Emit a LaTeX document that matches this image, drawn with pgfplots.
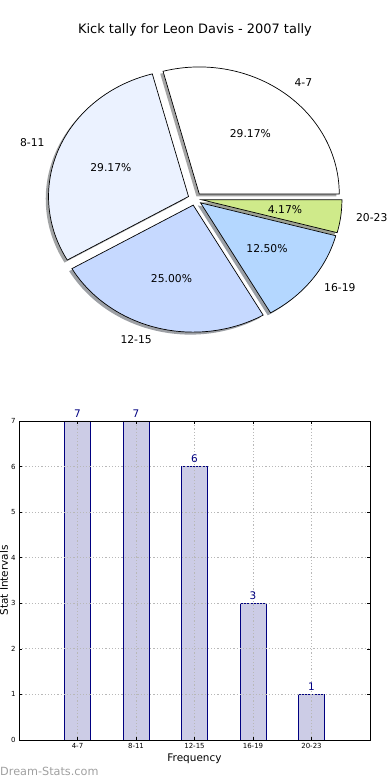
\documentclass[border=0pt]{standalone}
\usepackage{pgfplots}
\pgfplotsset{compat=1.18}
\usepackage{fontspec}
\setmainfont{DejaVu Sans}
\definecolor{c1}{RGB}{255,255,255}
\definecolor{c2}{RGB}{235,242,255}
\definecolor{c3}{RGB}{198,217,255}
\definecolor{c4}{RGB}{180,215,255}
\definecolor{c5}{RGB}{207,234,138}
\definecolor{barfill}{RGB}{204,204,230}
\definecolor{navy}{RGB}{0,0,128}
\definecolor{wm}{RGB}{160,160,160}
\pgfplotstableread{
x y
0 7
1 7
2 6
3 3
4 1
}\tally
\begin{document}
\begin{tikzpicture}[x=1bp,y=1bp]
\useasboundingbox (0,0) rectangle (390,780);
% ---------------- pie (7,7,6,3,1 of 24 -> 105,105,90,45,15 degrees) ----------------
\begin{axis}[at={(0bp,0bp)},anchor=south west,scale only axis,width=390bp,height=780bp,
  xmin=0,xmax=390,ymin=0,ymax=780,hide axis,clip=false]
% shadows
\addplot[draw=none,fill=c1!30!black,fill opacity=0.5,domain=0:105,samples=60] ({196.46+140*cos(x)},{583.54+127*sin(x)}) -- (196.46,583.54) -- cycle;
\addplot[draw=none,fill=c2!30!black,fill opacity=0.5,domain=105:210,samples=60] ({185.73+140*cos(x)},{580.93+127*sin(x)}) -- (185.73,580.93) -- cycle;
\addplot[draw=none,fill=c3!30!black,fill opacity=0.5,domain=210:300,samples=60] ({190.39+140*cos(x)},{572.37+127*sin(x)}) -- (190.39,572.37) -- cycle;
\addplot[draw=none,fill=c4!30!black,fill opacity=0.5,domain=300:345,samples=40] ({197.75+140*cos(x)},{574.63+127*sin(x)}) -- (197.75,574.63) -- cycle;
\addplot[draw=none,fill=c5!30!black,fill opacity=0.5,domain=345:360,samples=20] ({199.14+140*cos(x)},{577.67+127*sin(x)}) -- (199.14,577.67) -- cycle;
% wedges
\addplot[draw=black,line width=0.7bp,fill=c1,domain=0:105,samples=60] ({199.26+140*cos(x)},{586.04+127*sin(x)}) -- (199.26,586.04) -- cycle;
\addplot[draw=black,line width=0.7bp,fill=c2,domain=105:210,samples=60] ({188.53+140*cos(x)},{583.43+127*sin(x)}) -- (188.53,583.43) -- cycle;
\addplot[draw=black,line width=0.7bp,fill=c3,domain=210:300,samples=60] ({193.19+140*cos(x)},{574.87+127*sin(x)}) -- (193.19,574.87) -- cycle;
\addplot[draw=black,line width=0.7bp,fill=c4,domain=300:345,samples=40] ({200.55+140*cos(x)},{577.13+127*sin(x)}) -- (200.55,577.13) -- cycle;
\addplot[draw=black,line width=0.7bp,fill=c5,domain=345:360,samples=20] ({201.94+140*cos(x)},{580.17+127*sin(x)}) -- (201.94,580.17) -- cycle;
% percentages and labels
\begin{scope}[every node/.style={font=\fontsize{10.8}{13}\selectfont}]
\node at (250.4,646.5) {29.17\%};
\node at (110.9,612.6) {29.17\%};
\node at (171.5,501.3) {25.00\%};
\node at (267.0,531.0) {12.50\%};
\node at (285.0,570.2) {4.17\%};
\node[anchor=west] at (291.0,697.0) {4-7};
\node[anchor=east] at (48.0,637.0) {8-11};
\node[anchor=east] at (155.3,440.0) {12-15};
\node[anchor=west] at (320.7,492.0) {16-19};
\node[anchor=west] at (352.6,562.0) {20-23};
\end{scope}
\end{axis}
\node[font=\fontsize{13}{15}\selectfont] at (195,750) {Kick tally for Leon Davis - 2007 tally};
% ---------------- bars ----------------
\begin{axis}[at={(19bp,40bp)},anchor=south west,scale only axis,width=351bp,height=319bp,
  xmin=-1,xmax=5,ymin=0,ymax=7,
  ybar,bar width=0.444,
  xtick={0,...,4},xticklabels={4-7,8-11,12-15,16-19,20-23},
  ytick={0,...,7},
  axis on top,
  grid=major,major grid style={dash pattern=on 1.2bp off 2bp,black!28,line width=0.9bp},
  tick align=inside,major tick length=3bp,tick style={black,line width=0.5bp},
  ticklabel style={font=\fontsize{7}{8}\selectfont},
  /pgf/number format/assume math mode=true,
  xlabel={Frequency},ylabel={Stat Intervals},
  label style={font=\fontsize{10.5}{12}\selectfont},
  xlabel style={at={(axis description cs:0.5,-0.0596)},anchor=center},
  ylabel style={at={(axis description cs:-0.043,0.5)},anchor=center},
  axis line style={line width=0.8bp},
  nodes near coords,
  nodes near coords style={font=\fontsize{10.5}{12}\selectfont,text=navy},
]
\addplot[fill=barfill,draw=navy,line width=0.8bp] table[x=x,y=y] {\tally};
\end{axis}
\node[anchor=west,text=wm,font=\fontsize{11.3}{13}\selectfont,inner sep=0pt] at (0,9) {Dream-Stats.com};
\end{tikzpicture}
\end{document}
